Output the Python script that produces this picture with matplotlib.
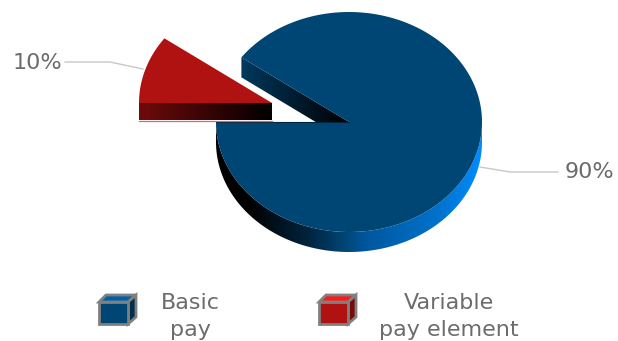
import numpy as np
import matplotlib
matplotlib.use("Agg")
from matplotlib import pyplot as plt
from matplotlib.colors import LinearSegmentedColormap
from matplotlib.patches import Polygon

# data
categories = ["Basic\npay", "Variable\npay element"]
shares = [90, 10]
share_labels = ["90%", "10%"]

# pie geometry, in pixels
CX, CY = 349, 122
RX, RY = 133, 110
DEPTH = 20
RED_SHIFT = (-77, -19)
RED_DEPTH = 17

TEXT = "#6c6c6c"


def ell(cx, cy, a0, a1, n=200):
    # ellipse arc, angles in degrees going clockwise on screen from the left side
    aa = np.radians(np.linspace(a0, a1, n))
    return cx + RX*np.cos(aa), cy + RY*np.sin(aa)


def gradient(ax, verts, stops, zorder):
    # polygon filled with a horizontal colour ramp
    xs = np.array([v[0] for v in verts])
    ys = np.array([v[1] for v in verts])
    cmap = LinearSegmentedColormap.from_list("g", stops)
    patch = Polygon(verts, closed=True, fc="none", ec="none", transform=ax.transData)
    ax.add_patch(patch)
    im = ax.imshow(np.linspace(0, 1, 256)[None, :], cmap=cmap, aspect="auto", zorder=zorder,
                   extent=(xs.min(), xs.max(), ys.max(), ys.min()), interpolation="bilinear")
    im.set_clip_path(patch)


fig = plt.figure(figsize=(6.18, 3.41), dpi=100)
ax = fig.add_axes([0, 0, 1, 1])

# screen angle of the red slice: it ends on the left side and runs up from there
red_sweep = 360*shares[1]/sum(shares)
red_a0 = 180
red_a1 = red_a0 + red_sweep

# --- blue slice ---
# cut face
ex, ey = ell(CX, CY, red_a1, red_a1, 1)
cut = [(ex[0], ey[0]), (CX, CY), (CX, CY + DEPTH), (ex[0], ey[0] + DEPTH)]
gradient(ax, cut, ["#00395f", "#001c30", "#000000"], 2)

# rim, only the front half can be seen
fx, fy = ell(CX, CY, 0, 180)
rim = list(zip(fx, fy)) + list(zip(fx[::-1], fy[::-1] + DEPTH))
gradient(ax, rim, [(0, "#000000"), (0.12, "#000000"), (0.35, "#00253f"), (0.5, "#004a7c"),
                   (0.57, "#0058a0"), (0.82, "#0070c8"), (1, "#008cff")], 2)

# top
tx, ty = ell(CX, CY, red_a1, 540)
ax.fill(np.r_[CX, tx], np.r_[CY, ty], fc="#004674", ec="none", zorder=3)
ax.plot([CX - RX, CX], [CY, CY], color="#00253f", lw=0.8, zorder=4)

# --- red slice, pulled out ---
rcx, rcy = CX + RED_SHIFT[0], CY + RED_SHIFT[1]
side = [(rcx - RX, rcy), (rcx, rcy), (rcx, rcy + RED_DEPTH), (rcx - RX, rcy + RED_DEPTH)]
gradient(ax, side, ["#6e0b0b", "#3a0404", "#000000"], 5)
ax.plot([rcx - RX, rcx], [rcy + RED_DEPTH + 0.5]*2, color="#d46a6a", lw=0.9, zorder=5)
rx_, ry_ = ell(rcx, rcy, red_a0, red_a1)
ax.fill(np.r_[rcx, rx_], np.r_[rcy, ry_], fc="#b01212", ec="none", zorder=6)

# --- leaders and value labels ---
ax.plot([65, 110, 143], [62, 62, 69], color="#c8c8c8", lw=1, zorder=1)
ax.plot([480, 510, 558], [167, 172, 172], color="#c8c8c8", lw=1, zorder=1)
ax.text(565, 172, share_labels[0], color=TEXT, fontsize=16, ha="left", va="center")
ax.text(13, 63, share_labels[1], color=TEXT, fontsize=16, ha="left", va="center")

# --- legend ---
cube_x = [99, 319]
fronts = ["#004674", "#b01212"]
tops = ["#0060a8", "#ff1a1a"]
sides = ["#00304f", "#7a0a0a"]
text_x = [190, 449]
for i, name in enumerate(categories):
    x = cube_x[i]
    ax.add_patch(Polygon([(x, 302), (x + 7, 295), (x + 37, 295), (x + 29, 302)], fc=tops[i], ec="#808080", lw=2, zorder=7))
    ax.add_patch(Polygon([(x + 29, 302), (x + 37, 295), (x + 37, 317), (x + 29, 324)], fc=sides[i], ec="#808080", lw=2, zorder=7))
    ax.add_patch(Polygon([(x, 302), (x + 29, 302), (x + 29, 324), (x, 324)], fc=fronts[i], ec="#808080", lw=2, zorder=8))
    first, second = name.split("\n")
    ax.text(text_x[i], 303, first, color=TEXT, fontsize=16, ha="center", va="center")
    ax.text(text_x[i], 330, second, color=TEXT, fontsize=16, ha="center", va="center")

ax.set_xlim(0, 618)
ax.set_ylim(341, 0)
ax.axis("off")

fig.savefig("out.png", dpi=100)
